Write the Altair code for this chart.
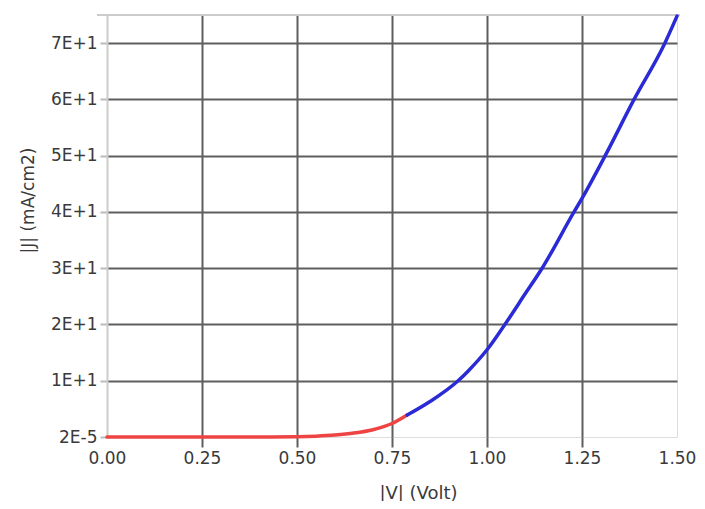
import altair as alt
import pandas as pd

red_v = [0.0, 0.1, 0.2, 0.3, 0.4, 0.5, 0.55, 0.6, 0.65, 0.7, 0.75, 0.79]
red_j = [0.0, 0.0, 0.0, 0.0, 0.0, 0.05, 0.15, 0.35, 0.7, 1.3, 2.4, 3.9]
blue_v = [0.79, 0.85, 0.924, 0.95, 1.0, 1.047, 1.1, 1.145, 1.229, 1.25, 1.311, 1.387, 1.468, 1.5]
blue_j = [3.9, 6.3, 10.0, 11.7, 15.5, 20.0, 25.4, 30.0, 40.0, 42.4, 50.0, 60.0, 70.0, 74.8]

x_ticks = [0.0, 0.25, 0.5, 0.75, 1.0, 1.25, 1.5]
y_ticks = [0, 10, 20, 30, 40, 50, 60, 70]

df = pd.concat([
    pd.DataFrame({"V": red_v, "J": red_j, "s": "low", "o": range(len(red_v))}),
    pd.DataFrame({"V": blue_v, "J": blue_j, "s": "high", "o": range(len(blue_v))}),
])

FONT = "DejaVu Sans"
GRID = "#5e5e5e"
TXT = "#3a3a3a"

line = alt.Chart(df).mark_line(strokeWidth=3.5, strokeCap="round", interpolate="monotone").encode(
    x=alt.X("V:Q", scale=alt.Scale(domain=[0, 1.5], nice=False),
            axis=alt.Axis(values=x_ticks, format=".2f", title="|V| (Volt)",
                          grid=True, labelFlush=False,
                          gridColor=alt.condition("datum.value == 0 || datum.value == 1.5",
                                                  alt.value("transparent"), alt.value(GRID)),
                          gridWidth=2,
                          tickColor=alt.condition("datum.value == 0 || datum.value == 1.5",
                                                  alt.value("transparent"), alt.value(GRID)),
                          tickWidth=2, tickSize=10, labelPadding=3,
                          domain=False, labelFontSize=17, labelColor=TXT,
                          labelFont=FONT, titleFont=FONT, titleFontSize=18,
                          titleFontWeight="normal", titleColor=TXT,
                          titleX=311, titleY=61, titleBaseline="alphabetic", titleAlign="center")),
    y=alt.Y("J:Q", scale=alt.Scale(domain=[0, 75], nice=False),
            axis=alt.Axis(values=y_ticks, title="|J| (mA/cm2)",
                          labelExpr="datum.value == 0 ? '2E-5' : (datum.value/10) + 'E+1'",
                          grid=True, labelFlush=False,
                          gridColor=alt.condition("datum.value == 0",
                                                  alt.value("transparent"), alt.value(GRID)),
                          gridWidth=2,
                          tickColor="#bbbbbb", tickWidth=2, tickSize=7, labelPadding=3,
                          domain=True, domainColor="#cccccc", domainWidth=2,
                          labelFontSize=17, labelColor=TXT, labelFont=FONT,
                          titleFont=FONT, titleFontSize=17, titleFontWeight="normal",
                          titleColor=TXT, titleX=-79, titleY=185, titleAlign="center",
                          titleBaseline="middle")),
    color=alt.Color("s:N", scale=alt.Scale(domain=["low", "high"], range=["#ee4444", "#2a2ad6"]),
                    legend=None),
    order="o:Q",
)

top = alt.Chart(pd.DataFrame({"a": [0]})).mark_rule(color="#cccccc", strokeWidth=2).encode(
    x=alt.value(-10), x2=alt.value(573), y=alt.value(0)
)

chart = alt.layer(top, line).properties(
    width=570, height=422,
    autosize=alt.AutoSizeParams(type="none"),
    padding={"left": 99, "top": 7, "right": 20, "bottom": 64},
).configure_view(stroke=None).configure(background="white")

chart.save("out.html", embed_options={"renderer": "svg", "actions": False})
